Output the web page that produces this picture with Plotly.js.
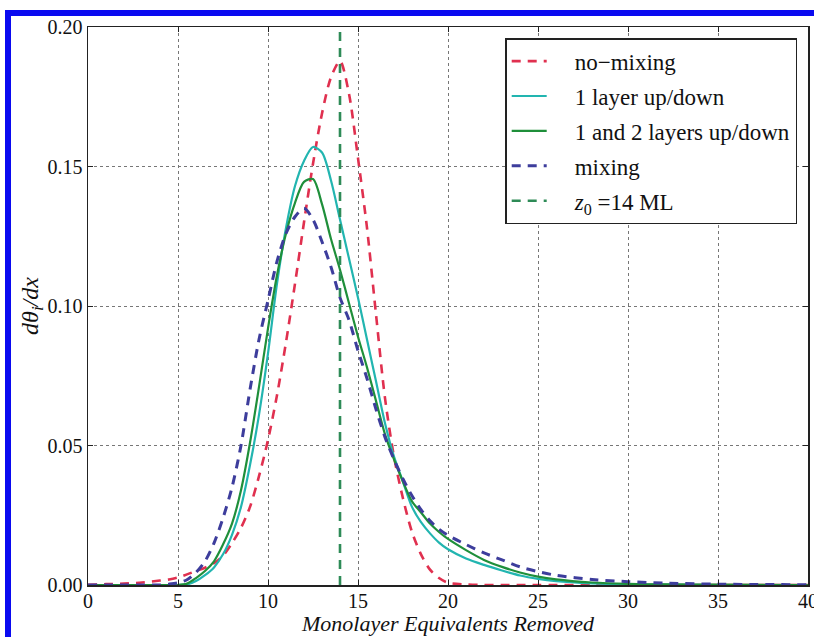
<!DOCTYPE html>
<html>
<head>
<meta charset="utf-8">
<script src="https://cdn.plot.ly/plotly-3.0.1.min.js"></script>
<style>
  html, body { margin: 0; padding: 0; background: #fff; }
  #wrap { position: relative; width: 814px; height: 637px; overflow: hidden; }
  #chart { position: absolute; left: 0; top: 0; width: 814px; height: 637px; }
  #frame { position: absolute; left: 5px; top: 10px; width: 809px; height: 627px;
           border-left: 6px solid #0a0af0; border-top: 6px solid #0a0af0; pointer-events: none; box-sizing: border-box; }
</style>
</head>
<body>
<div id="wrap">
  <div id="chart"></div>
  <div id="frame"></div>
</div>
<script>
// Shared x grid (monolayer equivalents removed)
const xVals = [0, 1, 2, 3, 4, 4.5, 5, 5.5, 6, 6.5, 7, 7.5, 8, 8.5, 9, 9.5, 10, 10.5, 11, 11.5, 12, 12.5, 13, 13.5, 14, 14.5, 15, 15.5, 16, 16.5, 17, 17.5, 18, 18.5, 19, 19.5, 20, 21, 22, 23, 24, 25, 26, 28, 30, 32, 35, 40];

// no-mixing (red dashed)
const noMixing = [0.0001, 0.0003, 0.0005, 0.0009, 0.0016, 0.002, 0.0027, 0.0038, 0.005, 0.0062, 0.0078, 0.0105, 0.015, 0.0205, 0.028, 0.039, 0.052, 0.068, 0.087, 0.108, 0.130, 0.151, 0.169, 0.182, 0.1878, 0.176, 0.153, 0.128, 0.097, 0.067, 0.046, 0.031, 0.019, 0.011, 0.0055, 0.0025, 0.0008, 0.0002, 0, 0, 0, 0, 0, 0, 0, 0, 0, 0];

// 1 layer up/down (cyan solid)
const oneLayer = [0, 0, 0, 0, 0, 0, 0, 0.0002, 0.0014, 0.0035, 0.0063, 0.011, 0.018, 0.028, 0.043, 0.061, 0.083, 0.108, 0.128, 0.143, 0.152, 0.157, 0.155, 0.145, 0.131, 0.117, 0.103, 0.088, 0.073, 0.058, 0.046, 0.037, 0.028, 0.0225, 0.0185, 0.0152, 0.0128, 0.0095, 0.0072, 0.0052, 0.0034, 0.0022, 0.0014, 0.0006, 0.0002, 0.0001, 0, 0];

// 1 and 2 layers up/down (green solid)
const twoLayers = [0, 0, 0, 0, 0, 0, 0, 0.0005, 0.0025, 0.005, 0.0085, 0.0145, 0.022, 0.034, 0.051, 0.071, 0.092, 0.111, 0.126, 0.137, 0.1445, 0.1455, 0.1365, 0.124, 0.113, 0.101, 0.089, 0.078, 0.066, 0.054, 0.045, 0.037, 0.030, 0.026, 0.022, 0.019, 0.0165, 0.0125, 0.009, 0.0065, 0.0045, 0.003, 0.002, 0.0009, 0.0004, 0.0002, 0.0001, 0];

// mixing (blue dashed)
const mixing = [0, 0, 0, 0, 0, 0.0003, 0.0008, 0.0019, 0.0045, 0.0085, 0.015, 0.024, 0.035, 0.050, 0.070, 0.088, 0.102, 0.116, 0.126, 0.132, 0.135, 0.131, 0.123, 0.114, 0.103, 0.095, 0.084, 0.074, 0.063, 0.053, 0.045, 0.038, 0.032, 0.027, 0.023, 0.020, 0.0178, 0.0145, 0.0115, 0.009, 0.0065, 0.0048, 0.0035, 0.002, 0.0012, 0.0007, 0.0003, 0.0001];

// z0 marker line
const z0 = 14;
const yTop = 0.20;

const seriesNames = ['no\u2212mixing', '1 layer up/down', '1 and 2 layers up/down', 'mixing', '<i>z</i><sub>0</sub> =14 ML'];
const xTicks = [0, 5, 10, 15, 20, 25, 30, 35, 40];
const yTicks = [0.00, 0.05, 0.10, 0.15, 0.20];
const yTickText = ['0.00', '0.05', '0.10', '0.15', '0.20'];
const xTitle = '<i>Monolayer Equivalents Removed</i>';
const yTitle = '<i>d\u03b8<sub>i</sub>/dx</i>';

const serif = 'Liberation Serif, Times New Roman, serif';
const pad = '\u00a0\u00a0\u00a0\u00a0';

const traces = [
  { x: xVals, y: noMixing, name: pad + seriesNames[0], legendgroup: 'a', mode: 'lines', line: { color: '#e0304f', width: 2.6, dash: '9px,7px', shape: 'spline', smoothing: 0.8 } },
  { x: xVals, y: oneLayer, name: pad + seriesNames[1], legendgroup: 'b', mode: 'lines', line: { color: '#22b5b0', width: 2.2, shape: 'spline', smoothing: 0.8 } },
  { x: xVals, y: twoLayers, name: pad + seriesNames[2], legendgroup: 'c', mode: 'lines', line: { color: '#1f8f3a', width: 2.2, shape: 'spline', smoothing: 0.8 } },
  { x: xVals, y: mixing, name: pad + seriesNames[3], legendgroup: 'd', mode: 'lines', line: { color: '#3d3d9c', width: 3, dash: '9px,7px', shape: 'spline', smoothing: 0.8 } },
  { x: [z0, z0], y: [0, yTop], name: pad + seriesNames[4], legendgroup: 'e', mode: 'lines', line: { color: '#2e8b57', width: 2.6, dash: '9px,7px' } }
];

const axisCommon = {
  showline: true, linecolor: '#222', linewidth: 1.5, mirror: 'ticks',
  ticks: 'inside', ticklen: 5, tickcolor: '#222', tickwidth: 1,
  showgrid: true, gridcolor: '#777', griddash: 'dot', gridwidth: 1,
  zeroline: false, ticklabeloverflow: 'allow'
};

const layout = {
  width: 814, height: 637,
  margin: { l: 88, r: 6, t: 27, b: 52 },
  paper_bgcolor: '#ffffff', plot_bgcolor: '#ffffff',
  showlegend: true,
  xaxis: Object.assign({}, axisCommon, {
    range: [0, 40], tickvals: xTicks, ticktext: xTicks.map(String),
    tickfont: { family: serif, size: 20, color: '#111' },
    ticklabelstandoff: -3
  }),
  yaxis: Object.assign({}, axisCommon, {
    range: [0, 0.2], tickvals: yTicks, ticktext: yTickText,
    tickfont: { family: serif, size: 20, color: '#111' },
    title: { text: yTitle, font: { family: serif, size: 24, color: '#111' }, standoff: 0 }
  }),
  annotations: [{
    text: xTitle, xref: 'paper', yref: 'paper', x: 0.5, y: 0,
    xanchor: 'center', yanchor: 'top', yshift: -25, showarrow: false,
    borderpad: 0,
    font: { family: serif, size: 22, color: '#111' }
  }],
  legend: {
    x: 0.985, y: 0.98, xanchor: 'right', yanchor: 'top',
    bgcolor: '#ffffff', bordercolor: '#222', borderwidth: 1.5,
    font: { family: serif, size: 23, color: '#111' },
    itemwidth: 35,
    traceorder: 'grouped',
    tracegroupgap: 2
  }
};

Plotly.newPlot('chart', traces, layout, { displayModeBar: false, staticPlot: true });
</script>
</body>
</html>
